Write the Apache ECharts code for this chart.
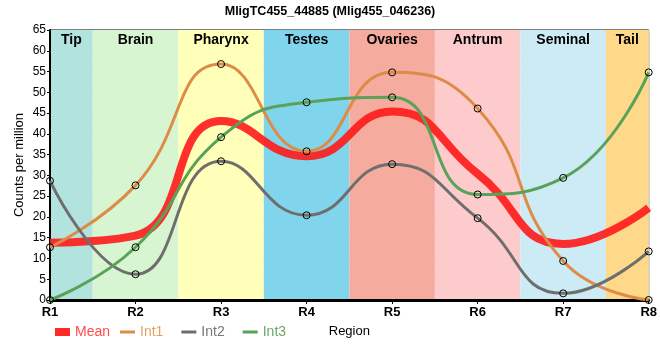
<!DOCTYPE html>
<html>
<head>
<meta charset="utf-8">
<script src="https://cdn.jsdelivr.net/npm/echarts@6/dist/echarts.min.js"></script>
<style>html,body{margin:0;padding:0;background:#fff}#c{width:660px;height:360px}</style>
</head>
<body>
<div id="c"></div>
<script>
var categories = ['R1','R2','R3','R4','R5','R6','R7','R8'];
var int1 = [12.7, 27.6, 56.8, 35.8, 54.8, 46.1, 9.4, 0];
var int2 = [28.7, 6.2, 33.4, 20.4, 32.7, 19.7, 1.6, 11.7];
var int3 = [0, 12.7, 39.2, 47.6, 48.8, 25.4, 29.4, 54.8];
var mean = [13.8, 15.5, 43.1, 34.6, 45.4, 30.4, 13.5, 22.2];
var regions = ['Tip','Brain','Pharynx','Testes','Ovaries','Antrum','Seminal','Tail'];
var regionColors = ['#b3e3df','#d7f5d0','#ffffb9','#80d4eb','#f5ab9e','#fecbcc','#ccebf5','#fed98a'];

function pairs(arr){ return arr.map(function(v,i){ return [i, v]; }); }

var bandData = regions.map(function(name, i){
  return [{
    name: name,
    xAxis: Math.max(0, i - 0.5),
    itemStyle: {color: regionColors[i], opacity: 1}
  }, {
    xAxis: Math.min(categories.length - 1, i + 0.5)
  }];
});

var chart = echarts.init(document.getElementById('c'));
var font = 'Liberation Sans, Arial, sans-serif';
var markerStyle = {color: 'rgba(0,0,0,0)', borderColor: '#000', borderWidth: 1};
var SM = 0.5;

chart.setOption({
  animation: false,
  backgroundColor: '#fff',
  title: {
    text: 'MligTC455_44885 (Mlig455_046236)',
    left: 'center', top: 0,
    textStyle: {fontFamily: font, fontSize: 12.5, fontWeight: 'bold', color: '#000'}
  },
  grid: {left: 50, right: 9, top: 30, bottom: 60, show: true, borderColor: '#000', borderWidth: 1, backgroundColor: 'transparent'},
  legend: [{
    left: 50, top: 320, itemWidth: 15, itemHeight: 8, itemGap: 10,
    icon: 'rect',
    data: [{name: 'Mean', itemStyle: {color: '#ff2a2a', borderWidth: 0}, textStyle: {color: '#ff4a4a'}}],
    textStyle: {fontFamily: font, fontSize: 14}
  }, {
    left: 115, top: 320, itemWidth: 15, itemHeight: 3, itemGap: 18,
    icon: 'rect',
    data: [
      {name: 'Int1', itemStyle: {color: '#dd8c48', borderWidth: 0}, textStyle: {color: '#e6a066'}},
      {name: 'Int2', itemStyle: {color: '#6e6e6e', borderWidth: 0}, textStyle: {color: '#777'}},
      {name: 'Int3', itemStyle: {color: '#5aa25a', borderWidth: 0}, textStyle: {color: '#6aa86a'}}
    ],
    textStyle: {fontFamily: font, fontSize: 14}
  }],
  xAxis: {
    type: 'value', min: 0, max: 7, interval: 1, z: 1,
    name: 'Region', nameLocation: 'middle', nameGap: 25,
    nameTextStyle: {fontFamily: font, fontSize: 13, color: '#000'},
    axisLine: {show: true, lineStyle: {color: '#000', width: 3}},
    axisTick: {show: true, length: 4, lineStyle: {color: '#000'}},
    axisLabel: {fontFamily: font, fontSize: 13, fontWeight: 'bold', color: '#000', margin: 6,
      formatter: function(v){ return categories[Math.round(v)]; }},
    splitLine: {show: true, lineStyle: {color: '#c8c8c8', width: 1}}
  },
  yAxis: {
    type: 'value', min: 0, max: 65, interval: 5, z: 1,
    name: 'Counts per million', nameLocation: 'middle', nameGap: 24, nameMoveOverlap: false,
    nameTextStyle: {fontFamily: font, fontSize: 13, color: '#000'},
    axisLine: {show: true, lineStyle: {color: '#000', width: 2}},
    axisTick: {show: true, length: 3, lineStyle: {color: '#000'}},
    axisLabel: {fontFamily: font, fontSize: 12, color: '#000', margin: 4},
    splitLine: {show: true, lineStyle: {color: '#c8c8c8', width: 1}}
  },
  series: [{
    name: 'bands', type: 'line', data: [], z: 0, silent: true,
    markArea: {
      silent: true,
      label: {show: true, position: 'insideTop', distance: 3, fontFamily: font, fontSize: 14, fontWeight: 'bold', color: '#000'},
      data: bandData
    }
  }, {
    name: 'Mean', type: 'line', data: pairs(mean), smooth: SM, z: 3,
    showSymbol: false, symbol: 'none',
    lineStyle: {color: '#ff1a1a', width: 8, opacity: 0.9},
    itemStyle: {color: '#ff2a2a'}
  }, {
    name: 'Int1', type: 'line', data: pairs(int1), smooth: SM, z: 4,
    symbol: 'circle', symbolSize: 7, itemStyle: markerStyle,
    lineStyle: {color: '#dd8c48', width: 3}
  }, {
    name: 'Int2', type: 'line', data: pairs(int2), smooth: SM, z: 4,
    symbol: 'circle', symbolSize: 7, itemStyle: markerStyle,
    lineStyle: {color: '#6e6e6e', width: 3}
  }, {
    name: 'Int3', type: 'line', data: pairs(int3), smooth: SM, z: 4,
    symbol: 'circle', symbolSize: 7, itemStyle: markerStyle,
    lineStyle: {color: '#5aa25a', width: 3}
  }]
});
</script>
</body>
</html>
